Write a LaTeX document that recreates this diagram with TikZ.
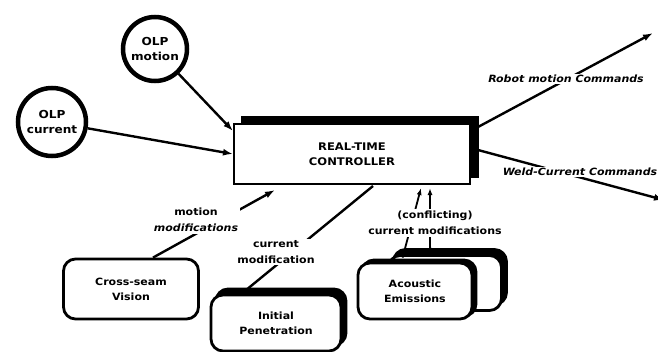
\documentclass[tikz,border=0pt]{standalone}
\usepackage{fontspec}
\setmainfont{DejaVu Sans}[FakeStretch=1.1]
\usetikzlibrary{arrows.meta,calc,shadows}
\begin{document}
\begin{tikzpicture}[x=1pt,y=-1pt,
 every node/.style={font=\bfseries\fontsize{10.5}{15}\selectfont, align=center},
 olp/.style={circle, draw, line width=4.5pt, fill=white, inner sep=0pt, font=\bfseries\fontsize{11}{15}\selectfont},
 ctrlbox/.style={rectangle, draw, line width=2pt, fill=white, minimum width=236pt, minimum height=60pt,
   copy shadow={shadow xshift=8pt, shadow yshift=7pt, fill=black, draw=black}},
 rbox/.style={rectangle, rounded corners=12pt, draw, line width=2.8pt, fill=white, font=\bfseries\fontsize{10}{15}\selectfont},
 sbox/.style={rbox, copy shadow={shadow xshift=5pt, shadow yshift=6pt, fill=black, draw=black}},
 lbox/.style={rbox, copy shadow={shadow xshift=4pt, shadow yshift=3pt, fill=black, draw=black}},
 conn/.style={line width=2.4pt},
 arr/.style={conn, -{Latex[length=10pt,width=7pt]}},
 sarr/.style={line width=1.8pt, -{Latex[length=7pt,width=5pt]}},
 lab/.style={fill=white, inner sep=1.5pt, font=\bfseries\fontsize{10}{16.5}\selectfont},
]
\useasboundingbox (0,0) rectangle (658,351);
\fill[white] (0,0) rectangle (658,351);

% nodes
\node[olp, minimum size=64pt] (motion) at (155,49) {OLP\\motion};
\node[olp, minimum size=68pt] (current) at (52,122) {OLP\\current};
\node[ctrlbox] (ctrl) at (352,154) {REAL-TIME\\CONTROLLER};
\node[rbox, minimum width=135pt, minimum height=60pt] (vision) at (131,289) {Cross-seam\\Vision};
\node[sbox, minimum width=130pt, minimum height=56pt] (penet) at (276,323) {Initial\\Penetration};
\node[sbox, minimum width=113pt, minimum height=55pt] (acous2) at (445,283) {};
\node[lbox, minimum width=114pt, minimum height=56pt] (acous) at (415,291) {Acoustic\\Emissions};

\coordinate (robotend) at (653,33);
\coordinate (weldend) at (664,200);

% connectors
\draw[arr] (motion) -- ($(ctrl.north west)+(0,8)$);
\draw[arr] (current) -- (ctrl.west);
\draw[arr] ($(ctrl.north east)+(7,4)$) -- (robotend);
\draw[arr] ($(ctrl.east)+(7,-4)$) -- (weldend);
\draw[arr] ($(vision.north)+(22,0)$) -- ($(ctrl.south west)+(42,5)$);
\draw[conn] ($(penet.north west)+(37,-4)$) -- ($(ctrl.south west)+(140,1)$);
\draw[sarr] ($(acous.north west)+(46,-4)$) -- ($(ctrl.south west)+(188,3)$);
\draw[sarr] ($(acous2.north west)+(43,-3)$) -- ($(ctrl.south west)+(197,3)$);

% labels
\node[lab] (lrobot) at (566,79) {\itshape Robot motion Commands};
\node[lab] (lweld) at (580,172) {\itshape Weld-Current Commands};
\node[lab] (lmot) at (196,220) {motion\\\itshape modifications};
\node[lab] (lcur) at (276,252) {current\\modification};
\node[lab] (lconf) at (435,223) {(conflicting)\\current modifications};
\end{tikzpicture}
\end{document}
